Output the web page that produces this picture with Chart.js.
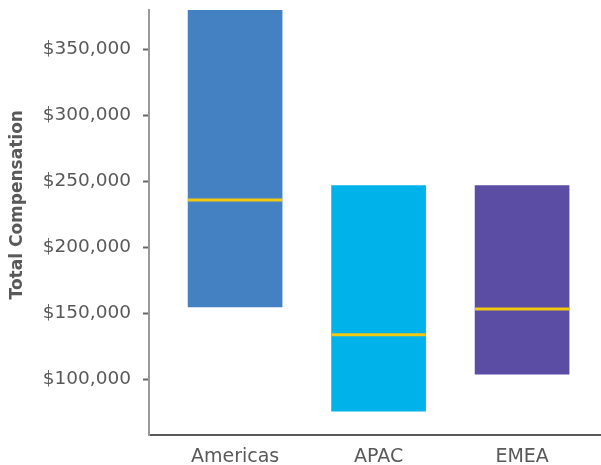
<!DOCTYPE html>
<html>
<head>
<meta charset="utf-8">
<script src="https://cdn.jsdelivr.net/npm/chart.js@4"></script>
<style>
  html, body { margin: 0; padding: 0; background: #fff; }
  canvas { display: block; }
</style>
</head>
<body>
<canvas id="compChart" width="601" height="465"></canvas>
<script>
const categories = ['Americas', 'APAC', 'EMEA'];
const lows = [155000, 76000, 104000];
const highs = [380000, 247000, 247000];
const medians = [236000, 134000, 153500];
const barColors = ['#4481C2', '#00B2EA', '#5A4DA3'];
const yTickValues = [100000, 150000, 200000, 250000, 300000, 350000];

const textColor = '#595959';
const fontFamily = '"DejaVu Sans", sans-serif';

const ctx = document.getElementById('compChart').getContext('2d');
new Chart(ctx, {
    type: 'bar',
    data: {
        datasets: [{
            label: 'Range',
            data: lows.map((lo, i) => ({ x: i, y: [lo, highs[i]] })),
            backgroundColor: barColors,
            borderWidth: 0,
            barThickness: 94,
            order: 2
        }, {
            type: 'line',
            label: 'Median',
            data: medians.map((m, i) => ({ x: i, y: m })),
            showLine: false,
            pointStyle: 'line',
            pointRadius: 47,
            pointHoverRadius: 47,
            pointBorderWidth: 3,
            borderColor: '#F2C811',
            backgroundColor: '#F2C811',
            order: 1
        }]
    },
    options: {
        responsive: false,
        animation: false,
        devicePixelRatio: 1,
        layout: { autoPadding: false, padding: { top: 10, left: 0, right: 0, bottom: 0 } },
        plugins: {
            legend: { display: false },
            tooltip: { enabled: false }
        },
        scales: {
            x: {
                type: 'linear',
                offset: false,
                min: -0.6,
                max: 2.55,
                afterBuildTicks: (scale) => {
                    scale.ticks = categories.map((c, i) => ({ value: i }));
                },
                afterFit: (scale) => {
                    scale.height = 30;
                    scale.paddingLeft = 0;
                    scale.paddingRight = 0;
                },
                ticks: {
                    autoSkip: false,
                    maxRotation: 0,
                    padding: 3,
                    color: textColor,
                    font: { family: fontFamily, size: 19 },
                    callback: (v) => categories[v]
                },
                grid: { display: false },
                border: { display: true, color: '#5a5a5a', width: 2 }
            },
            y: {
                min: 58000,
                max: 380000,
                afterBuildTicks: (scale) => {
                    scale.ticks = yTickValues.map(v => ({ value: v }));
                },
                afterFit: (scale) => {
                    scale.width = 149;
                    scale.paddingTop = 0;
                    scale.paddingBottom = 0;
                },
                ticks: {
                    padding: 12,
                    color: textColor,
                    font: { family: fontFamily, size: 18.5 },
                    callback: (v) => '$' + v.toLocaleString('en-US')
                },
                grid: {
                    drawOnChartArea: false,
                    drawTicks: true,
                    tickLength: 6,
                    tickWidth: 2,
                    tickColor: '#666'
                },
                border: { display: true, color: '#999', width: 2 },
                title: {
                    display: true,
                    text: '      Total Compensation',
                    color: textColor,
                    font: { family: fontFamily, size: 17, weight: 'bold' },
                    padding: { top: 7, bottom: 0 }
                }
            }
        }
    }
});
</script>
</body>
</html>
